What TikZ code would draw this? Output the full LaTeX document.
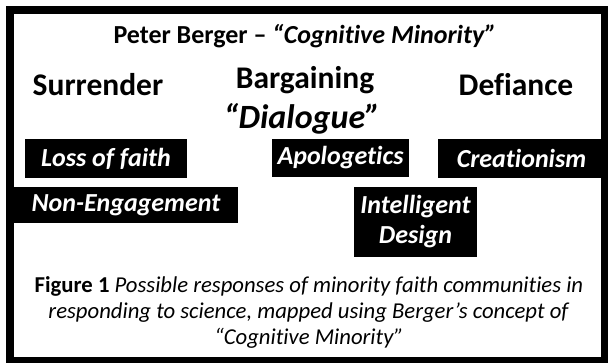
\documentclass[tikz,border=0pt]{standalone}
\usepackage{fontspec}
\setmainfont{Carlito}[Ligatures={TeX,NoCommon}]
\begin{document}
\begin{tikzpicture}[x=1pt,y=-1pt,
  heading/.style={anchor=base,inner sep=0pt,font=\fontsize{31.5pt}{36pt}\selectfont\bfseries},
  tagbox/.style={fill=black,text=white,inner sep=0pt,align=center,
    font=\fontsize{26pt}{30pt}\selectfont\bfseries\itshape},
  caption/.style={anchor=base,inner sep=0pt,font=\fontsize{22.7pt}{26pt}\selectfont}]
  \useasboundingbox (0,0) rectangle (608,362);
  \clip (0,0) rectangle (608,362);
  \fill[white] (0,0) rectangle (608,362);

  % outer frame
  \draw[line width=8pt] (10,10) rectangle (605,361);

  % title
  \node[anchor=base,inner sep=0pt,font=\fontsize{26pt}{30pt}\selectfont\bfseries] (title) at (305,43)
    {Peter Berger – \textit{“Cognitive Minority”}};

  % three response headings
  \node[heading] (surrender) at (98,95) {Surrender};
  \node[heading] (bargain) at (305,88) {Bargaining};
  \node[heading,font=\fontsize{34pt}{38pt}\selectfont\bfseries] (dialogue) at (302,128) {\itshape “Dialogue”};
  \node[heading] (defiance) at (516,95) {Defiance};

  % black label boxes
  \node[tagbox,minimum width=162pt,minimum height=39pt] (loss) at (106,158.5) {Loss of faith};
  \node[tagbox,minimum width=137pt,minimum height=38pt] (apol) at (340.5,158) {Apologetics};
  \node[tagbox,minimum width=167pt,minimum height=39pt] (creat) at (521.5,158.5) {Creationism};
  \node[tagbox,minimum width=224pt,minimum height=36pt] (noneng) at (126,205) {Non-Engagement};
  \node[tagbox,minimum width=123pt,minimum height=70pt] (id) at (415.5,222) {Intelligent\\Design};

  % caption
  \node[caption] (cap1) at (309,292) {\textbf{Figure 1} \textit{Possible responses of minority faith communities in}};
  \node[caption] (cap2) at (309,318) {\textit{responding to science, mapped using Berger’s concept of}};
  \node[caption] (cap3) at (309,344) {\textit{“Cognitive Minority”}};
\end{tikzpicture}
\end{document}
